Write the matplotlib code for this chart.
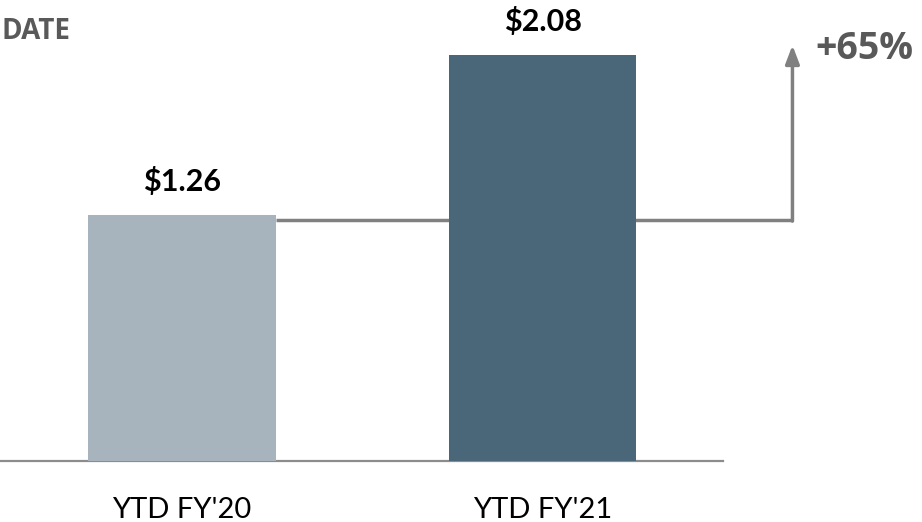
import matplotlib.pyplot as plt

# data
categories = ["YTD FY'20", "YTD FY'21"]
values = [1.26, 2.08]
value_labels = ["$1.26", "$2.08"]
bar_colors = ["#a7b4bd", "#4a6779"]
title = "DATE"

growth = (values[1] / values[0] - 1) * 100

fig = plt.figure(figsize=(9.22, 5.22), dpi=100)
W, H = 922, 522
# axes placed in pixels: baseline at y=461, spans x 0..723
ax = fig.add_axes([0, 61 / H, 723 / W, 461 / H])

x = [0, 1]
ax.bar(x, values, width=0.52, color=bar_colors, zorder=3)
ax.set_xlim(-0.504, 1.5)
ax.set_ylim(0, 2.362)

# value labels above the bars
for xi, v, lab in zip(x, values, value_labels):
    ax.annotate(lab, (xi, v), xytext=(0, 17), textcoords='offset points',
                ha='center', va='baseline', fontsize=22, fontweight='bold',
                family='Lato', color='black')

# connector line from first bar to arrow
line_y = values[0] - 0.025
arrow_x = 1.6925
tip_y = values[1] + 0.05
ax.plot([0.26, arrow_x], [line_y, line_y], color='#808080', lw=2.5,
        zorder=2, clip_on=False, solid_capstyle='butt')
ax.annotate('', xy=(arrow_x, tip_y), xytext=(arrow_x, line_y - 0.006),
            arrowprops=dict(arrowstyle='-|>,head_length=1.1,head_width=0.42',
                            color='#808080', lw=2.5, shrinkA=0, shrinkB=0),
            annotation_clip=False)
ax.text(1.756, values[1] + 0.033, f"+{growth:.0f}%", ha='left', va='center',
        fontsize=27, fontweight='bold', family='Open Sans', color='#595959',
        clip_on=False)

# axis styling
for s in ['top', 'right', 'left']:
    ax.spines[s].set_visible(False)
ax.spines['bottom'].set_color('#8c8c8c')
ax.spines['bottom'].set_linewidth(1.6)
ax.set_yticks([])
ax.set_xticks(x)
ax.set_xticklabels(categories, fontsize=21, family='Lato')
ax.tick_params(axis='x', length=0, pad=26)

fig.text(2 / W, 1 - 31.7 / H, title, ha='left', va='center', fontsize=20,
         fontweight='bold', family='Open Sans', color='#595959')

fig.savefig('out.png', dpi=100)
